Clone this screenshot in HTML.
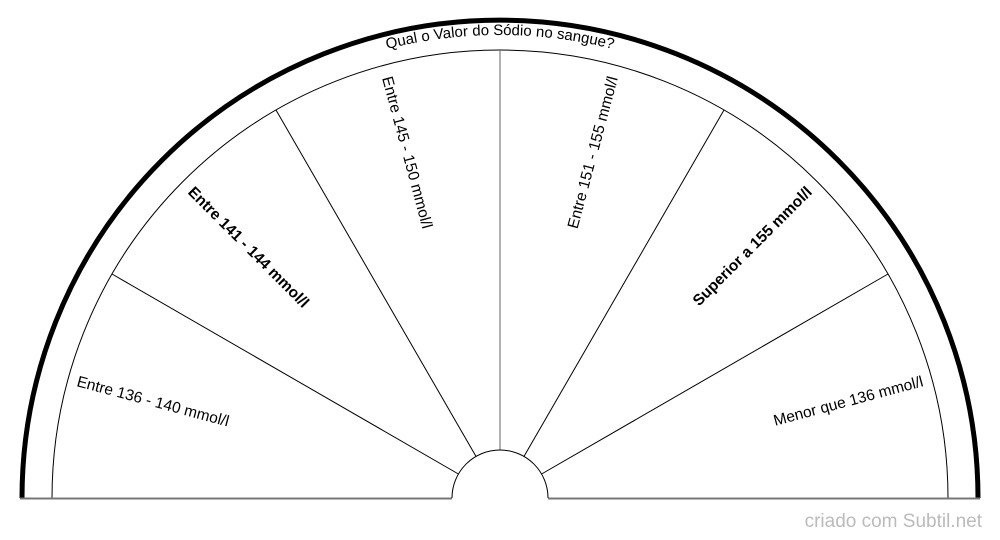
<!DOCTYPE html>
<html><head><meta charset="utf-8"><style>
html,body{margin:0;padding:0;background:#fff;}
svg{display:block;}
text{font-family:"Liberation Sans",sans-serif;font-size:15.5px;fill:#000;}
</style></head><body>
<svg width="1000" height="540" viewBox="0 0 1000 540" xmlns="http://www.w3.org/2000/svg">
<defs>
<path id="tp" d="M 37 498 A 463 463 0 0 1 963 498"/>
</defs>
<path d="M 22 498 A 478 478 0 0 1 978 498" fill="none" stroke="#000" stroke-width="5"/>
<path d="M 52 498 A 448 448 0 0 1 948 498" fill="none" stroke="#000" stroke-width="1"/>
<line x1="20" y1="498.5" x2="452" y2="498.5" stroke="#777" stroke-width="2"/>
<line x1="548" y1="498.5" x2="980" y2="498.5" stroke="#777" stroke-width="2"/>
<g stroke="#000" stroke-width="1">
<line x1="458.4" y1="474" x2="112" y2="274"/>
<line x1="476" y1="456.4" x2="276" y2="110"/>
<line x1="500" y1="450" x2="500" y2="50" stroke="#666"/>
<line x1="524" y1="456.4" x2="724" y2="110"/>
<line x1="541.6" y1="474" x2="888" y2="274"/>
</g>
<path d="M 452 498 A 48 48 0 0 1 548 498" fill="#fff" stroke="#000" stroke-width="1"/>
<text style="font-size:15px"><textPath href="#tp" startOffset="50%" text-anchor="middle" dy="4">Qual o Valor do Sódio no sangue?</textPath></text>
<text transform="translate(77,382) rotate(15)" dominant-baseline="middle">Entre 136 - 140 mmol/l</text>
<text transform="translate(190,190) rotate(45)" dominant-baseline="middle" font-weight="bold">Entre 141 - 144 mmol/l</text>
<text transform="translate(386,77) rotate(75)" dominant-baseline="middle">Entre 145 - 150 mmol/l</text>
<text transform="translate(614,77) rotate(-75)" dominant-baseline="middle" text-anchor="end">Entre 151 - 155 mmol/l</text>
<text transform="translate(810,190) rotate(-45)" dominant-baseline="middle" text-anchor="end" font-weight="bold">Superior a 155 mmol/l</text>
<text transform="translate(923,382) rotate(-15)" dominant-baseline="middle" text-anchor="end">Menor que 136 mmol/l</text>
<text x="982" y="527" text-anchor="end" style="fill:#bbb;font-size:19px">criado com Subtil.net</text>
</svg>
</body></html>
